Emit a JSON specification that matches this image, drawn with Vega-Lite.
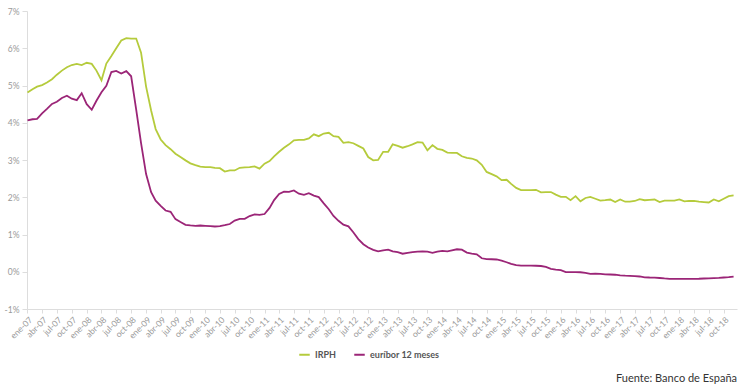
{
  "$schema": "https://vega.github.io/schema/vega-lite/v6.json",
  "width": 710,
  "height": 298,
  "autosize": {"type": "none"},
  "padding": {"left": 27, "top": 11, "right": 3, "bottom": 80},
  "background": "white",
  "config": {"view": {"stroke": null}, "font": "Lato"},
  "title": {"text": "Fuente: Banco de España", "orient": "bottom", "anchor": "end", "frame": "group", "offset": 13, "fontSize": 11, "fontWeight": "normal", "color": "#333333", "font": "Lato"},
  "data": {"values": [
{"date":"2007-01-01","IRPH":4.81,"euribor":4.064},{"date":"2007-02-01","IRPH":4.90,"euribor":4.094},{"date":"2007-03-01","IRPH":4.97,"euribor":4.106},{"date":"2007-04-01","IRPH":5.01,"euribor":4.253},{"date":"2007-05-01","IRPH":5.08,"euribor":4.373},{"date":"2007-06-01","IRPH":5.17,"euribor":4.505},{"date":"2007-07-01","IRPH":5.29,"euribor":4.564},{"date":"2007-08-01","IRPH":5.40,"euribor":4.666},{"date":"2007-09-01","IRPH":5.49,"euribor":4.725},{"date":"2007-10-01","IRPH":5.55,"euribor":4.647},{"date":"2007-11-01","IRPH":5.58,"euribor":4.607},{"date":"2007-12-01","IRPH":5.55,"euribor":4.793},
{"date":"2008-01-01","IRPH":5.61,"euribor":4.498},{"date":"2008-02-01","IRPH":5.58,"euribor":4.349},{"date":"2008-03-01","IRPH":5.40,"euribor":4.590},{"date":"2008-04-01","IRPH":5.14,"euribor":4.820},{"date":"2008-05-01","IRPH":5.59,"euribor":4.994},{"date":"2008-06-01","IRPH":5.79,"euribor":5.361},{"date":"2008-07-01","IRPH":6.00,"euribor":5.393},{"date":"2008-08-01","IRPH":6.21,"euribor":5.323},{"date":"2008-09-01","IRPH":6.27,"euribor":5.384},{"date":"2008-10-01","IRPH":6.26,"euribor":5.248},{"date":"2008-11-01","IRPH":6.26,"euribor":4.350},{"date":"2008-12-01","IRPH":5.88,"euribor":3.452},
{"date":"2009-01-01","IRPH":4.97,"euribor":2.622},{"date":"2009-02-01","IRPH":4.33,"euribor":2.135},{"date":"2009-03-01","IRPH":3.83,"euribor":1.909},{"date":"2009-04-01","IRPH":3.55,"euribor":1.771},{"date":"2009-05-01","IRPH":3.40,"euribor":1.644},{"date":"2009-06-01","IRPH":3.29,"euribor":1.610},{"date":"2009-07-01","IRPH":3.17,"euribor":1.412},{"date":"2009-08-01","IRPH":3.08,"euribor":1.334},{"date":"2009-09-01","IRPH":2.99,"euribor":1.261},{"date":"2009-10-01","IRPH":2.91,"euribor":1.243},{"date":"2009-11-01","IRPH":2.86,"euribor":1.231},{"date":"2009-12-01","IRPH":2.82,"euribor":1.242},
{"date":"2010-01-01","IRPH":2.81,"euribor":1.232},{"date":"2010-02-01","IRPH":2.81,"euribor":1.225},{"date":"2010-03-01","IRPH":2.79,"euribor":1.215},{"date":"2010-04-01","IRPH":2.78,"euribor":1.225},{"date":"2010-05-01","IRPH":2.69,"euribor":1.249},{"date":"2010-06-01","IRPH":2.72,"euribor":1.281},{"date":"2010-07-01","IRPH":2.72,"euribor":1.373},{"date":"2010-08-01","IRPH":2.79,"euribor":1.421},{"date":"2010-09-01","IRPH":2.80,"euribor":1.420},{"date":"2010-10-01","IRPH":2.81,"euribor":1.495},{"date":"2010-11-01","IRPH":2.83,"euribor":1.541},{"date":"2010-12-01","IRPH":2.77,"euribor":1.526},
{"date":"2011-01-01","IRPH":2.90,"euribor":1.550},{"date":"2011-02-01","IRPH":2.97,"euribor":1.714},{"date":"2011-03-01","IRPH":3.10,"euribor":1.924},{"date":"2011-04-01","IRPH":3.22,"euribor":2.086},{"date":"2011-05-01","IRPH":3.33,"euribor":2.147},{"date":"2011-06-01","IRPH":3.42,"euribor":2.144},{"date":"2011-07-01","IRPH":3.53,"euribor":2.183},{"date":"2011-08-01","IRPH":3.54,"euribor":2.097},{"date":"2011-09-01","IRPH":3.54,"euribor":2.067},{"date":"2011-10-01","IRPH":3.58,"euribor":2.110},{"date":"2011-11-01","IRPH":3.69,"euribor":2.044},{"date":"2011-12-01","IRPH":3.64,"euribor":2.004},
{"date":"2012-01-01","IRPH":3.71,"euribor":1.837},{"date":"2012-02-01","IRPH":3.73,"euribor":1.678},{"date":"2012-03-01","IRPH":3.64,"euribor":1.499},{"date":"2012-04-01","IRPH":3.62,"euribor":1.368},{"date":"2012-05-01","IRPH":3.46,"euribor":1.266},{"date":"2012-06-01","IRPH":3.48,"euribor":1.219},{"date":"2012-07-01","IRPH":3.45,"euribor":1.061},{"date":"2012-08-01","IRPH":3.38,"euribor":0.877},{"date":"2012-09-01","IRPH":3.31,"euribor":0.740},{"date":"2012-10-01","IRPH":3.08,"euribor":0.650},{"date":"2012-11-01","IRPH":2.99,"euribor":0.588},{"date":"2012-12-01","IRPH":3.00,"euribor":0.549},
{"date":"2013-01-01","IRPH":3.22,"euribor":0.575},{"date":"2013-02-01","IRPH":3.22,"euribor":0.594},{"date":"2013-03-01","IRPH":3.42,"euribor":0.545},{"date":"2013-04-01","IRPH":3.38,"euribor":0.528},{"date":"2013-05-01","IRPH":3.33,"euribor":0.484},{"date":"2013-06-01","IRPH":3.37,"euribor":0.507},{"date":"2013-07-01","IRPH":3.42,"euribor":0.525},{"date":"2013-08-01","IRPH":3.48,"euribor":0.542},{"date":"2013-09-01","IRPH":3.47,"euribor":0.543},{"date":"2013-10-01","IRPH":3.26,"euribor":0.541},{"date":"2013-11-01","IRPH":3.40,"euribor":0.506},{"date":"2013-12-01","IRPH":3.30,"euribor":0.543},
{"date":"2014-01-01","IRPH":3.27,"euribor":0.562},{"date":"2014-02-01","IRPH":3.20,"euribor":0.549},{"date":"2014-03-01","IRPH":3.19,"euribor":0.577},{"date":"2014-04-01","IRPH":3.19,"euribor":0.604},{"date":"2014-05-01","IRPH":3.10,"euribor":0.592},{"date":"2014-06-01","IRPH":3.06,"euribor":0.513},{"date":"2014-07-01","IRPH":3.04,"euribor":0.488},{"date":"2014-08-01","IRPH":2.99,"euribor":0.469},{"date":"2014-09-01","IRPH":2.87,"euribor":0.362},{"date":"2014-10-01","IRPH":2.68,"euribor":0.338},{"date":"2014-11-01","IRPH":2.62,"euribor":0.335},{"date":"2014-12-01","IRPH":2.56,"euribor":0.329},
{"date":"2015-01-01","IRPH":2.46,"euribor":0.298},{"date":"2015-02-01","IRPH":2.47,"euribor":0.255},{"date":"2015-03-01","IRPH":2.36,"euribor":0.212},{"date":"2015-04-01","IRPH":2.25,"euribor":0.180},{"date":"2015-05-01","IRPH":2.19,"euribor":0.165},{"date":"2015-06-01","IRPH":2.19,"euribor":0.163},{"date":"2015-07-01","IRPH":2.19,"euribor":0.167},{"date":"2015-08-01","IRPH":2.20,"euribor":0.161},{"date":"2015-09-01","IRPH":2.13,"euribor":0.154},{"date":"2015-10-01","IRPH":2.14,"euribor":0.128},{"date":"2015-11-01","IRPH":2.14,"euribor":0.079},{"date":"2015-12-01","IRPH":2.07,"euribor":0.059},
{"date":"2016-01-01","IRPH":2.01,"euribor":0.042},{"date":"2016-02-01","IRPH":2.01,"euribor":-0.008},{"date":"2016-03-01","IRPH":1.92,"euribor":-0.012},{"date":"2016-04-01","IRPH":2.03,"euribor":-0.010},{"date":"2016-05-01","IRPH":1.89,"euribor":-0.013},{"date":"2016-06-01","IRPH":1.98,"euribor":-0.028},{"date":"2016-07-01","IRPH":2.01,"euribor":-0.056},{"date":"2016-08-01","IRPH":1.96,"euribor":-0.048},{"date":"2016-09-01","IRPH":1.91,"euribor":-0.057},{"date":"2016-10-01","IRPH":1.92,"euribor":-0.069},{"date":"2016-11-01","IRPH":1.94,"euribor":-0.074},{"date":"2016-12-01","IRPH":1.87,"euribor":-0.080},
{"date":"2017-01-01","IRPH":1.94,"euribor":-0.095},{"date":"2017-02-01","IRPH":1.88,"euribor":-0.106},{"date":"2017-03-01","IRPH":1.88,"euribor":-0.110},{"date":"2017-04-01","IRPH":1.90,"euribor":-0.119},{"date":"2017-05-01","IRPH":1.95,"euribor":-0.127},{"date":"2017-06-01","IRPH":1.92,"euribor":-0.149},{"date":"2017-07-01","IRPH":1.93,"euribor":-0.154},{"date":"2017-08-01","IRPH":1.94,"euribor":-0.156},{"date":"2017-09-01","IRPH":1.87,"euribor":-0.168},{"date":"2017-10-01","IRPH":1.91,"euribor":-0.180},{"date":"2017-11-01","IRPH":1.91,"euribor":-0.189},{"date":"2017-12-01","IRPH":1.91,"euribor":-0.190},
{"date":"2018-01-01","IRPH":1.94,"euribor":-0.189},{"date":"2018-02-01","IRPH":1.89,"euribor":-0.191},{"date":"2018-03-01","IRPH":1.90,"euribor":-0.191},{"date":"2018-04-01","IRPH":1.90,"euribor":-0.190},{"date":"2018-05-01","IRPH":1.88,"euribor":-0.188},{"date":"2018-06-01","IRPH":1.87,"euribor":-0.181},{"date":"2018-07-01","IRPH":1.86,"euribor":-0.180},{"date":"2018-08-01","IRPH":1.94,"euribor":-0.169},{"date":"2018-09-01","IRPH":1.89,"euribor":-0.166},{"date":"2018-10-01","IRPH":1.96,"euribor":-0.154},{"date":"2018-11-01","IRPH":2.03,"euribor":-0.147},{"date":"2018-12-01","IRPH":2.05,"euribor":-0.129}
  ]},
  "transform": [
    {"fold": ["IRPH", "euribor"], "as": ["key", "valor"]},
    {"calculate": "datum.key === 'IRPH' ? 'IRPH' : 'euríbor 12 meses'", "as": "serie"}
  ],
  "mark": {"type": "line", "strokeWidth": 1.8, "interpolate": "linear"},
  "encoding": {
    "x": {
      "field": "date", "type": "temporal",
      "scale": {"type": "utc", "domain": ["2006-12-29", "2018-12-22"]},
      "axis": {
        "title": null,
        "values": [
          {"year":2007,"month":1,"date":1,"utc":true},{"year":2007,"month":4,"date":1,"utc":true},{"year":2007,"month":7,"date":1,"utc":true},{"year":2007,"month":10,"date":1,"utc":true},
          {"year":2008,"month":1,"date":1,"utc":true},{"year":2008,"month":4,"date":1,"utc":true},{"year":2008,"month":7,"date":1,"utc":true},{"year":2008,"month":10,"date":1,"utc":true},
          {"year":2009,"month":1,"date":1,"utc":true},{"year":2009,"month":4,"date":1,"utc":true},{"year":2009,"month":7,"date":1,"utc":true},{"year":2009,"month":10,"date":1,"utc":true},
          {"year":2010,"month":1,"date":1,"utc":true},{"year":2010,"month":4,"date":1,"utc":true},{"year":2010,"month":7,"date":1,"utc":true},{"year":2010,"month":10,"date":1,"utc":true},
          {"year":2011,"month":1,"date":1,"utc":true},{"year":2011,"month":4,"date":1,"utc":true},{"year":2011,"month":7,"date":1,"utc":true},{"year":2011,"month":10,"date":1,"utc":true},
          {"year":2012,"month":1,"date":1,"utc":true},{"year":2012,"month":4,"date":1,"utc":true},{"year":2012,"month":7,"date":1,"utc":true},{"year":2012,"month":10,"date":1,"utc":true},
          {"year":2013,"month":1,"date":1,"utc":true},{"year":2013,"month":4,"date":1,"utc":true},{"year":2013,"month":7,"date":1,"utc":true},{"year":2013,"month":10,"date":1,"utc":true},
          {"year":2014,"month":1,"date":1,"utc":true},{"year":2014,"month":4,"date":1,"utc":true},{"year":2014,"month":7,"date":1,"utc":true},{"year":2014,"month":10,"date":1,"utc":true},
          {"year":2015,"month":1,"date":1,"utc":true},{"year":2015,"month":4,"date":1,"utc":true},{"year":2015,"month":7,"date":1,"utc":true},{"year":2015,"month":10,"date":1,"utc":true},
          {"year":2016,"month":1,"date":1,"utc":true},{"year":2016,"month":4,"date":1,"utc":true},{"year":2016,"month":7,"date":1,"utc":true},{"year":2016,"month":10,"date":1,"utc":true},
          {"year":2017,"month":1,"date":1,"utc":true},{"year":2017,"month":4,"date":1,"utc":true},{"year":2017,"month":7,"date":1,"utc":true},{"year":2017,"month":10,"date":1,"utc":true},
          {"year":2018,"month":1,"date":1,"utc":true},{"year":2018,"month":4,"date":1,"utc":true},{"year":2018,"month":7,"date":1,"utc":true},{"year":2018,"month":10,"date":1,"utc":true}
        ],
        "labelExpr": "['ene','feb','mar','abr','may','jun','jul','ago','sep','oct','nov','dic'][utcmonth(datum.value)] + '-' + utcFormat(datum.value, '%y')",
        "labelAngle": -45,
        "labelAlign": "right",
        "labelBaseline": "top",
        "labelFontSize": 8.5,
        "labelColor": "#999999",
        "labelPadding": 2,
        "labelOverlap": false,
        "grid": false,
        "domainColor": "#dddddd",
        "tickColor": "#dddddd",
        "tickSize": 4
      }
    },
    "y": {
      "field": "valor", "type": "quantitative",
      "scale": {"domain": [-1, 7], "nice": false, "zero": false},
      "axis": {
        "title": null,
        "values": [-1, 0, 1, 2, 3, 4, 5, 6, 7],
        "labelExpr": "datum.value + '%'",
        "labelFontSize": 8.5,
        "labelColor": "#999999",
        "labelPadding": 3,
        "grid": false,
        "domainColor": "#dddddd",
        "tickColor": "#dddddd",
        "tickSize": 5
      }
    },
    "color": {
      "field": "serie", "type": "nominal",
      "scale": {"domain": ["IRPH", "euríbor 12 meses"], "range": ["#b5cb3c", "#9b2577"]},
      "legend": {
        "title": null,
        "orient": "none",
        "direction": "horizontal",
        "legendX": 271,
        "legendY": 337,
        "symbolType": "stroke",
        "symbolStrokeWidth": 2,
        "symbolSize": 110,
        "labelFontSize": 9,
        "labelFontWeight": "bold",
        "labelColor": "#555555",
        "columnPadding": 14
      }
    }
  }
}
